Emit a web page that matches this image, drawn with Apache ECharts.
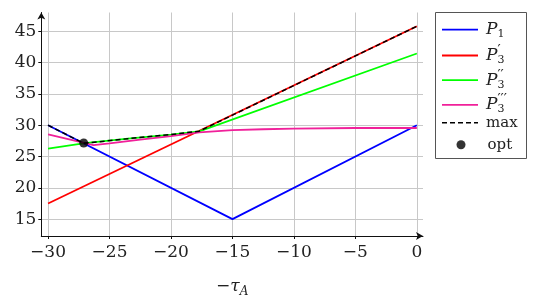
<!DOCTYPE html>
<html>
<head>
<meta charset="utf-8">
<script src="https://cdn.jsdelivr.net/npm/echarts@6/dist/echarts.min.js"></script>
<style>html,body{margin:0;padding:0;background:#fff}#c{width:538px;height:303px}</style>
</head>
<body>
<div id="c"></div>
<script>
// ---- data ----
const xTicks = [-30, -25, -20, -15, -10, -5, 0];
const yTicks = [15, 20, 25, 30, 35, 40, 45];

const p1X = [-30, -15, 0];
const p1Y = [30, 15, 30];

const p3aX = [-30, 0];
const p3aY = [17.5, 45.8];

const p3bX = [-30, -27, -23.5, -20, -17.7, 0];
const p3bY = [26.25, 27.15, 27.85, 28.5, 29.0, 41.45];

const p3cX = [-30, -26.3, -25, -22.5, -20, -17.7, -15, -12.5, -10, -5, 0];
const p3cY = [28.55, 26.8, 27.1, 27.7, 28.25, 28.85, 29.2, 29.35, 29.45, 29.55, 29.55];

const maxX = [-30, -27.1, -23.5, -20, -17.7, 0];
const maxY = [30, 27.1, 27.85, 28.5, 29.05, 45.8];

const optX = [-27.1];
const optY = [27.15];

const seriesNames = ['P1', "P3'", "P3''", "P3'''", 'max', 'opt'];
const legendLabels = [
  '{p|P}{s|1}',
  '{p|P}{q|′}{s|3}',
  '{p|P}{q|′′}{s|3}',
  '{p|P}{q|′′′}{s|3}',
  '{t|max}',
  '{o|opt}'
];

function pairs(xs, ys) { return xs.map((x, i) => [x, ys[i]]); }

const chart = echarts.init(document.getElementById('c'), null, {renderer: 'canvas'});

const serif = 'DejaVu Serif';
const legendRich = {
  p: {fontFamily: serif, fontStyle: 'italic', fontSize: 17, color: '#222', lineHeight: 22, verticalAlign: 'middle'},
  s: {fontFamily: serif, fontSize: 11, color: '#222', lineHeight: 22, verticalAlign: 'bottom', padding: [0, 0, 1, 0]},
  q: {fontFamily: serif, fontSize: 14, color: '#222', lineHeight: 22, verticalAlign: 'top', width: 0, align: 'left', padding: [0, 0, 0, 0]},
  t: {fontFamily: serif, fontSize: 15, color: '#222', lineHeight: 22, verticalAlign: 'middle'},
  o: {fontFamily: serif, fontSize: 15, color: '#222', lineHeight: 22, verticalAlign: 'middle', padding: [0, 0, 0, 14]}
};

const solidIcon = 'path://M0,0H36V1.8H0Z';
const dashIcon = 'path://M0,0H5V1.6H0Z M8,0H13V1.6H8Z M16,0H21V1.6H16Z M24,0H29V1.6H24Z M32,0H36V1.6H32Z';
const legendIcons = [solidIcon, solidIcon, solidIcon, solidIcon, dashIcon, 'circle'];
const legendCenters = [28.7, 52, 76.7, 101.3, 122.7, 143.3];

const legends = seriesNames.map((n, i) => {
  const isDot = (n === 'opt');
  return {
    data: [{name: n, icon: legendIcons[i]}],
    orient: 'vertical',
    left: isDot ? 456.5 : 442,
    top: legendCenters[i] - 11 + (isDot ? 5 : 3.5),
    padding: 0,
    itemWidth: isDot ? 9 : 36,
    itemHeight: isDot ? 9 : 1.8,
    itemGap: 0,
    selectedMode: false,
    formatter: () => legendLabels[i],
    textStyle: {rich: legendRich, padding: [0, 0, 0, 3]}
  };
});

const lineCommon = {type: 'line', symbol: 'none', showSymbol: false, animation: false, silent: true};

chart.setOption({
  animation: false,
  backgroundColor: '#fff',
  grid: {left: 41.3, top: 12.5, width: 381.7, height: 225.2, containLabel: false},
  legend: legends,
  graphic: [{
    type: 'rect',
    shape: {x: 435.5, y: 12.5, width: 91, height: 146},
    style: {fill: 'none', stroke: '#555', lineWidth: 1},
    z: 100
  }],
  xAxis: {
    type: 'value',
    min: -30.55,
    max: 0.5,
    name: '{m|−}{t|τ}{s|A}',
    nameLocation: 'middle',
    nameGap: 40,
    nameTextStyle: {
      rich: {
        m: {fontFamily: serif, fontSize: 17, color: '#222', lineHeight: 22, verticalAlign: 'middle'},
        t: {fontFamily: serif, fontStyle: 'italic', fontSize: 17, color: '#222', lineHeight: 22, verticalAlign: 'middle'},
        s: {fontFamily: serif, fontStyle: 'italic', fontSize: 12, color: '#222', lineHeight: 22, verticalAlign: 'bottom'}
      }
    },
    axisLine: {onZero: false, lineStyle: {color: '#111', width: 1}, symbol: ['none', 'arrow'], symbolSize: [6, 7]},
    axisTick: {show: true, length: 3, lineStyle: {color: '#111'}, customValues: xTicks},
    axisLabel: {
      customValues: xTicks,
      margin: 8,
      fontFamily: serif,
      fontSize: 17,
      color: '#222',
      formatter: v => (v < 0 ? '−' + Math.abs(v) : String(v))
    },
    splitLine: {show: true, lineStyle: {color: '#c8c8c8', width: 1}}
  },
  yAxis: {
    type: 'value',
    min: 12.3,
    max: 48,
    axisLine: {show: true, onZero: false, lineStyle: {color: '#111', width: 1}, symbol: ['none', 'arrow'], symbolSize: [6, 7]},
    axisTick: {show: true, length: 3, lineStyle: {color: '#111'}, customValues: yTicks},
    axisLabel: {
      customValues: yTicks,
      margin: 5,
      fontFamily: serif,
      fontSize: 17,
      color: '#222'
    },
    splitLine: {show: true, lineStyle: {color: '#c8c8c8', width: 1}}
  },
  series: [
    Object.assign({}, lineCommon, {name: 'P1', data: pairs(p1X, p1Y), lineStyle: {color: '#0000ff', width: 1.8}, itemStyle: {color: '#0000ff'}}),
    Object.assign({}, lineCommon, {name: "P3'", data: pairs(p3aX, p3aY), lineStyle: {color: '#ff0000', width: 1.8}, itemStyle: {color: '#ff0000'}}),
    Object.assign({}, lineCommon, {name: "P3''", data: pairs(p3bX, p3bY), lineStyle: {color: '#00ff00', width: 1.8}, itemStyle: {color: '#00ff00'}}),
    Object.assign({}, lineCommon, {name: "P3'''", data: pairs(p3cX, p3cY), lineStyle: {color: '#f0209a', width: 1.8}, itemStyle: {color: '#f0209a'}}),
    Object.assign({}, lineCommon, {name: 'max', data: pairs(maxX, maxY), lineStyle: {color: '#000', width: 1.5, type: [5, 3]}, itemStyle: {color: '#000'}}),
    {type: 'scatter', name: 'opt', data: pairs(optX, optY), symbol: 'circle', symbolSize: 9, itemStyle: {color: '#000'}, silent: true, animation: false, z: 5}
  ]
});
</script>
</body>
</html>
